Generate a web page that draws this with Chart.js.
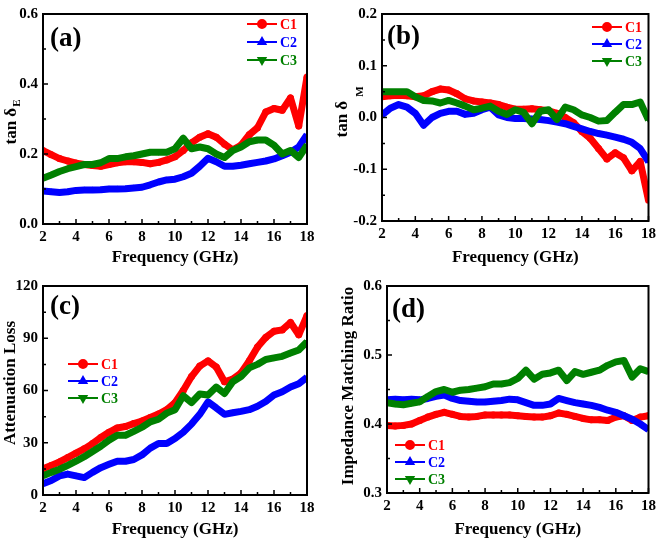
<!DOCTYPE html>
<html>
<head>
<meta charset="utf-8">
<script src="https://cdn.jsdelivr.net/npm/chart.js@4.4.0/dist/chart.umd.min.js"></script>
<style>
  body { margin: 0; background: #fff; }
  #wrap { position: relative; width: 660px; height: 543px; overflow: hidden; }
  canvas { position: absolute; }
</style>
</head>
<body>
<div id="wrap">
  <canvas id="chartA" width="325" height="271" style="left:0;top:0"></canvas>
  <canvas id="chartB" width="330" height="271" style="left:330px;top:0"></canvas>
  <canvas id="chartC" width="325" height="271" style="left:0;top:272px"></canvas>
  <canvas id="chartD" width="330" height="271" style="left:330px;top:272px"></canvas>
</div>
<script>
// frequency points (GHz)
const freq = [2, 2.5, 3, 3.5, 4, 4.5, 5, 5.5, 6, 6.5, 7, 7.5, 8, 8.5, 9, 9.5, 10,
  10.5, 11, 11.5, 12, 12.5, 13, 13.5, 14, 14.5, 15, 15.5, 16, 16.5, 17, 17.5, 18];
const seriesNames = ["C1", "C2", "C3"];

// (a) dielectric loss tangent
const tanE_C1 = [0.21, 0.198, 0.187, 0.18, 0.174, 0.17, 0.167, 0.165, 0.17, 0.175, 0.178, 0.178, 0.176,
  0.172, 0.176, 0.183, 0.192, 0.21, 0.232, 0.248, 0.258, 0.248, 0.228, 0.212, 0.225, 0.255, 0.275,
  0.32, 0.33, 0.325, 0.36, 0.28, 0.42];
const tanE_C2 = [0.094, 0.092, 0.09, 0.092, 0.096, 0.097, 0.097, 0.098, 0.1, 0.1, 0.101, 0.103, 0.105,
  0.112, 0.12, 0.126, 0.128, 0.135, 0.145, 0.165, 0.188, 0.178, 0.165, 0.165, 0.168, 0.172, 0.176,
  0.18, 0.186, 0.195, 0.205, 0.22, 0.255];
const tanE_C3 = [0.131, 0.14, 0.15, 0.158, 0.164, 0.17, 0.17, 0.175, 0.187, 0.187, 0.192, 0.195, 0.2,
  0.205, 0.205, 0.205, 0.215, 0.245, 0.215, 0.22, 0.215, 0.2, 0.19, 0.21, 0.22, 0.235, 0.24,
  0.24, 0.225, 0.2, 0.21, 0.19, 0.225];

// (b) magnetic loss tangent
const tanM_C1 = [0.04, 0.042, 0.043, 0.042, 0.04, 0.042, 0.05, 0.055, 0.053, 0.046, 0.036, 0.032, 0.03,
  0.028, 0.025, 0.02, 0.016, 0.016, 0.017, 0.015, 0.013, 0.008, 0.0, -0.01, -0.027, -0.04, -0.06,
  -0.08, -0.068, -0.078, -0.103, -0.085, -0.16];
const tanM_C2 = [0.005, 0.018, 0.025, 0.02, 0.008, -0.015, 0.0, 0.008, 0.012, 0.012, 0.006, 0.008, 0.015,
  0.02, 0.005, 0.0, -0.002, -0.002, -0.003, -0.004, -0.006, -0.009, -0.012, -0.017, -0.022, -0.027,
  -0.031, -0.034, -0.038, -0.042, -0.048, -0.06, -0.085];
const tanM_C3 = [0.05, 0.05, 0.05, 0.05, 0.04, 0.033, 0.032, 0.028, 0.033, 0.028, 0.022, 0.015, 0.018,
  0.022, 0.012, 0.006, 0.015, 0.01, -0.012, 0.012, 0.015, -0.004, 0.02, 0.015, 0.005, 0.0, -0.007,
  -0.006, 0.01, 0.025, 0.025, 0.03, -0.005];

// (c) attenuation constant
const atten_C1 = [15, 17, 19, 21.5, 24, 26.5, 29.5, 33, 36, 38.5, 39.3, 41, 42.5, 44.5, 46.5, 49, 53,
  60, 68, 74, 77, 73.5, 65, 66.5, 70, 77, 85, 90.5, 94, 94.8, 99, 92, 103];
const atten_C2 = [6.5, 8.3, 11, 12, 11, 10, 13, 15.7, 17.6, 19.4, 19.4, 20.4, 23, 26.9, 29.6, 29.6, 32.4,
  36, 40.7, 46.3, 53.5, 50, 46.3, 47.2, 48, 49, 51, 53.7, 57.4, 59.3, 62, 63.9, 67.6];
const atten_C3 = [11, 13, 14.8, 17, 19.4, 22, 25, 28, 31.5, 34.3, 34.3, 36.5, 38.9, 42, 43.5, 47, 49,
  57, 53, 58, 57.4, 62, 58.3, 65, 68, 73, 75, 77.8, 78.7, 79.6, 81.5, 83.3, 88];

// (d) impedance matching ratio
const imp_C1 = [0.398, 0.397, 0.398, 0.4, 0.405, 0.41, 0.414, 0.417, 0.414, 0.411, 0.41, 0.411, 0.413,
  0.413, 0.413, 0.413, 0.412, 0.411, 0.41, 0.41, 0.412, 0.416, 0.414, 0.411, 0.408, 0.406, 0.406,
  0.405, 0.41, 0.412, 0.405, 0.41, 0.412];
const imp_C2 = [0.435, 0.436, 0.435, 0.436, 0.435, 0.437, 0.44, 0.442, 0.437, 0.434, 0.433, 0.432, 0.432,
  0.433, 0.434, 0.436, 0.435, 0.431, 0.427, 0.427, 0.429, 0.437, 0.434, 0.431, 0.429, 0.427, 0.424,
  0.42, 0.417, 0.412, 0.407, 0.4, 0.392];
const imp_C3 = [0.431, 0.429, 0.428, 0.43, 0.432, 0.44, 0.447, 0.45, 0.446, 0.449, 0.45, 0.452, 0.454,
  0.458, 0.458, 0.46, 0.466, 0.478, 0.465, 0.472, 0.474, 0.478, 0.463, 0.476, 0.472, 0.475, 0.478,
  0.485, 0.49, 0.492, 0.468, 0.48, 0.476];

const serif = "'Liberation Serif', 'Times New Roman', serif";
const colors = ["#ff0000", "#0000ff", "#008000"];
const markers = [
  { style: "circle", rotation: 0 },
  { style: "triangle", rotation: 0 },
  { style: "triangle", rotation: 180 }
];

Chart.defaults.font.family = serif;
Chart.defaults.font.weight = "bold";
Chart.defaults.color = "#000";

// frame, inward ticks, panel letter, y title and legend
const panelDecor = {
  id: "panelDecor",
  afterDatasetsDraw(chart, args, opts) {
    const ctx = chart.ctx;
    const area = chart.chartArea;
    const xs = chart.scales.x;
    const ys = chart.scales.y;
    ctx.save();
    ctx.strokeStyle = "#000";
    ctx.lineWidth = 2;
    ctx.strokeRect(area.left, area.top, area.right - area.left, area.bottom - area.top);

    ctx.lineWidth = 1.5;
    ctx.beginPath();
    const xt = xs.ticks.map((t) => t.value);
    xt.forEach((v, i) => {
      const px = xs.getPixelForValue(v);
      ctx.moveTo(px, area.bottom);
      ctx.lineTo(px, area.bottom - 5);
      if (i < xt.length - 1) {
        const pm = xs.getPixelForValue((v + xt[i + 1]) / 2);
        ctx.moveTo(pm, area.bottom);
        ctx.lineTo(pm, area.bottom - 3);
      }
    });
    const yt = ys.ticks.map((t) => t.value);
    yt.forEach((v, i) => {
      const py = ys.getPixelForValue(v);
      ctx.moveTo(area.left, py);
      ctx.lineTo(area.left + 5, py);
      if (i < yt.length - 1) {
        const pm = ys.getPixelForValue((v + yt[i + 1]) / 2);
        ctx.moveTo(area.left, pm);
        ctx.lineTo(area.left + 3, pm);
      }
    });
    ctx.stroke();

    // panel letter
    ctx.fillStyle = "#000";
    ctx.textAlign = "left";
    ctx.textBaseline = "middle";
    ctx.font = "bold 27px " + serif;
    ctx.fillText(opts.label, opts.labelX, opts.labelY);

    // y axis title (rotated, with optional small index)
    ctx.save();
    ctx.translate(opts.titleX, opts.titleY);
    ctx.rotate(-Math.PI / 2);
    ctx.font = "bold 17px " + serif;
    const w1 = ctx.measureText(opts.title).width;
    let w2 = 0;
    if (opts.sub) {
      ctx.font = "bold 11px " + serif;
      w2 = ctx.measureText(opts.sub).width + opts.subDx;
    }
    const start = -(w1 + w2) / 2;
    ctx.font = "bold 17px " + serif;
    ctx.fillText(opts.title, start, 0);
    if (opts.sub) {
      ctx.font = "bold 11px " + serif;
      ctx.fillText(opts.sub, start + w1 + opts.subDx, opts.subDy);
    }
    ctx.restore();

    // legend
    ctx.font = "bold 14px " + serif;
    chart.data.datasets.forEach((ds, i) => {
      const x = opts.legendX;
      const y = opts.legendY + i * opts.legendGap;
      ctx.strokeStyle = ds.borderColor;
      ctx.fillStyle = ds.borderColor;
      ctx.lineWidth = 2;
      ctx.beginPath();
      ctx.moveTo(x, y);
      ctx.lineTo(x + 30, y);
      ctx.stroke();
      Chart.helpers.drawPoint(ctx, {
        pointStyle: ds.pointStyle,
        rotation: ds.rotation,
        radius: 4,
        borderWidth: 1
      }, x + 15, y);
      ctx.fillText(seriesNames[i], x + 33, y + 1);
    });
    ctx.restore();
  }
};

function makeDatasets(lists) {
  return lists.map((vals, i) => ({
    label: seriesNames[i],
    data: freq.map((f, k) => ({ x: f, y: vals[k] })),
    borderColor: colors[i],
    backgroundColor: colors[i],
    pointBackgroundColor: colors[i],
    pointBorderColor: colors[i],
    pointStyle: markers[i].style,
    rotation: markers[i].rotation,
    pointRadius: 3.5,
    pointBorderWidth: 0,
    borderWidth: 7,
    borderJoinStyle: "round",
    tension: 0,
    fill: false,
    order: 3 - i
  }));
}

function fmtTick(digits) {
  return (v) => (Math.abs(v) < 1e-9 ? 0 : v).toFixed(digits);
}

function renderPanel(id, lists, yOpts, layout, decor) {
  const config = {
    type: "line",
    data: { datasets: makeDatasets(lists) },
    options: {
      responsive: false,
      animation: false,
      devicePixelRatio: 1,
      layout: { padding: { top: layout.top, right: layout.right, left: 0, bottom: 0 } },
      plugins: {
        legend: { display: false },
        tooltip: { enabled: false },
        panelDecor: decor
      },
      scales: {
        x: {
          type: "linear",
          min: 2,
          max: 18,
          ticks: { stepSize: 2, padding: 4, font: { size: 15, weight: "bold" } },
          grid: { display: false, drawTicks: false },
          border: { display: false },
          title: {
            display: true,
            text: "Frequency (GHz)",
            font: { size: 17, weight: "bold" },
            padding: { top: 0, bottom: 3 }
          },
          afterFit: (s) => { s.height = layout.xHeight; }
        },
        y: {
          type: "linear",
          min: yOpts.min,
          max: yOpts.max,
          ticks: {
            stepSize: yOpts.step,
            padding: 5,
            font: { size: 15, weight: "bold" },
            callback: fmtTick(yOpts.digits)
          },
          grid: { display: false, drawTicks: false },
          border: { display: false },
          afterFit: (s) => { s.width = layout.yWidth; }
        }
      }
    },
    plugins: [panelDecor]
  };
  return new Chart(document.getElementById(id), config);
}

renderPanel("chartA", [tanE_C1, tanE_C2, tanE_C3],
  { min: 0, max: 0.6, step: 0.2, digits: 1 },
  { top: 8, right: 18, yWidth: 43, xHeight: 47 },
  { label: "(a)", labelX: 50, labelY: 39, title: "tan \u03b4", sub: "E", subDx: 1, subDy: 5,
    titleX: 12, titleY: 122, legendX: 247, legendY: 24, legendGap: 18 });

renderPanel("chartB", [tanM_C1, tanM_C2, tanM_C3],
  { min: -0.2, max: 0.2, step: 0.1, digits: 1 },
  { top: 7, right: 11, yWidth: 52, xHeight: 50 },
  { label: "(b)", labelX: 57, labelY: 37, title: "tan \u03b4", sub: "M", subDx: 4, subDy: 17,
    titleX: 13, titleY: 112, legendX: 262, legendY: 27, legendGap: 17 });

renderPanel("chartC", [atten_C1, atten_C2, atten_C3],
  { min: 0, max: 120, step: 30, digits: 0 },
  { top: 7, right: 18, yWidth: 43, xHeight: 48 },
  { label: "(c)", labelX: 50, labelY: 35, title: "Attenuation Loss", sub: "", subDx: 0, subDy: 0,
    titleX: 11, titleY: 111, legendX: 68, legendY: 92, legendGap: 17 });

renderPanel("chartD", [imp_C1, imp_C2, imp_C3],
  { min: 0.3, max: 0.6, step: 0.1, digits: 1 },
  { top: 8, right: 9, yWidth: 57, xHeight: 50 },
  { label: "(d)", labelX: 62, labelY: 38, title: "Impedance Matching Ratio", sub: "", subDx: 0, subDy: 0,
    titleX: 19, titleY: 114, legendX: 65, legendY: 173, legendGap: 17 });
</script>
</body>
</html>
